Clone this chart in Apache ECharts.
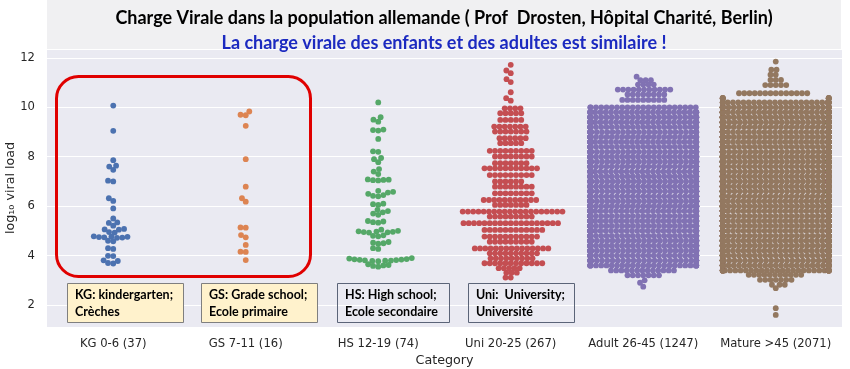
<!DOCTYPE html>
<html><head><meta charset="utf-8">
<script src="https://cdn.jsdelivr.net/npm/echarts@6/dist/echarts.min.js"></script>
<style>html,body{margin:0;padding:0;background:#fff}#c{width:850px;height:369px}</style>
</head><body><div id="c"></div>
<script>
// ---------------- DATA ----------------
const categories = ['KG 0-6 (37)', 'GS 7-11 (16)', 'HS 12-19 (74)', 'Uni 20-25 (267)', 'Adult 26-45 (1247)', 'Mature >45 (2071)'];
const yTicks = [2, 4, 6, 8, 10, 12];

const kgValues = [10.07, 9.05, 7.86, 7.64, 7.6, 7.47, 7.03, 7.0, 6.32, 6.21, 5.91, 5.5, 5.34, 5.32, 5.21,
  5.08, 5.06, 5.05, 4.95, 4.93, 4.78, 4.77, 4.76, 4.75, 4.74, 4.73, 4.72, 4.6, 4.58, 4.3, 4.27,
  3.99, 3.98, 3.81, 3.78, 3.7, 3.68];

const gsValues = [9.83, 9.7, 9.68, 9.25, 7.9, 6.79, 6.32, 6.18, 5.14, 5.13, 4.83, 4.74, 4.43, 4.16, 4.15, 3.82];

const hsValues = [10.2, 9.6, 9.5, 9.42, 9.1, 9.08, 9.06, 8.72, 8.22, 8.2, 7.95, 7.9, 7.78, 7.5, 7.4, 7.3,
  7.08, 7.07, 7.06, 7.05, 7.04, 6.62, 6.58, 6.55, 6.5, 6.45, 6.42, 6.4, 6.1, 6.08, 6.05,
  5.85, 5.8, 5.75, 5.7, 5.65, 5.4, 5.38, 5.35, 5.33, 5.05, 5.0, 4.98, 4.97, 4.96, 4.95, 4.94, 4.93,
  4.82, 4.8, 4.78, 4.55, 4.52, 4.5, 4.48, 4.3, 4.27,
  3.9, 3.88, 3.86, 3.85, 3.84, 3.83, 3.82, 3.81, 3.8, 3.79, 3.78, 3.77, 3.65, 3.62, 3.6, 3.58, 3.55];

// value levels and how many points sit on each level
const uniLevels = [3.11, 3.31, 3.49, 3.69, 3.89, 4.09, 4.29, 4.56, 4.77, 5.04, 5.31, 5.58, 5.78, 6.05, 6.25, 6.52, 6.79, 7.0,
  7.26, 7.53, 7.74, 8.01, 8.24, 8.55, 8.75, 9.02, 9.22, 9.49, 9.76, 9.96, 10.27, 10.37, 10.61, 11.02, 11.14, 11.38, 11.49, 11.72];
const uniCounts = [2, 3, 5, 12, 9, 10, 15, 9, 11, 12, 19, 9, 20, 7, 11, 8, 8, 6,
  9, 11, 7, 8, 9, 5, 6, 7, 7, 5, 5, 4, 1, 1, 1, 1, 1, 1, 1, 1];

const adultLevels = [2.74, 2.9, 3.0, 3.2, 3.4, 3.6, 3.8, 4.0, 4.2, 4.4, 4.6, 4.8, 5.0, 5.2, 5.4, 5.6, 5.8, 6.0, 6.2, 6.4, 6.6,
  6.8, 7.0, 7.2, 7.4, 7.6, 7.8, 8.0, 8.2, 8.4, 8.6, 8.8, 9.0, 9.2, 9.4, 9.6, 9.8, 10.0, 10.3, 10.52, 10.72, 10.92, 11.1, 11.24];
const adultCounts = [1, 1, 1, 7, 13, 30, 34, 36, 37, 38, 38, 39, 39, 41, 41, 41, 41, 40, 40, 38, 38,
  38, 37, 37, 37, 36, 36, 36, 35, 35, 35, 34, 34, 33, 33, 31, 28, 22, 9, 8, 11, 4, 3, 1];

const matureLevels = [1.6, 1.87, 2.68, 2.82, 3.02, 3.22, 3.4, 3.6, 3.8, 4.0, 4.2, 4.4, 4.6, 4.8, 5.0, 5.2, 5.4, 5.6, 5.8, 6.0,
  6.2, 6.4, 6.6, 6.8, 7.0, 7.2, 7.4, 7.6, 7.8, 8.0, 8.2, 8.4, 8.6, 8.8, 9.0, 9.2, 9.4, 9.6, 9.8, 10.0, 10.2,
  10.37, 10.57, 10.9, 11.11, 11.32, 11.52, 11.85];
const matureCounts = [1, 1, 1, 3, 7, 11, 40, 48, 52, 55, 56, 57, 58, 59, 60, 61, 61, 61, 61, 61,
  62, 62, 62, 62, 62, 62, 62, 62, 62, 62, 61, 61, 61, 61, 59, 58, 57, 55, 52, 45, 30,
  10, 14, 5, 3, 2, 2, 1];

const seriesColors = ['#4C72B0', '#DD8452', '#55A868', '#C44E52', '#8172B3', '#937860'];

// ---------------- LAYOUT ----------------
const W = 850, H = 369;
const gridL = 47, gridR = 8, gridT = 49, gridB = 42;
const yMin = 1.11, yMax = 12.36;
const pxPerX = (W - gridL - gridR) / categories.length;
const pxPerY = (H - gridT - gridB) / (yMax - yMin);
const DIAM = 5.0;             // collision diameter in px
const HALF = pxPerX * 0.8 / 2; // swarm half width in px

function expand(levels, counts) {
  const out = [];
  levels.forEach((v, i) => { for (let k = 0; k < counts[i]; k++) out.push(v); });
  return out;
}

// seaborn-like beeswarm layout (in pixel space)
function swarm(values) {
  const idx = values.map((v, i) => i).sort((a, b) => values[a] - values[b]);
  const placed = [];
  const out = new Array(values.length);
  const d2 = DIAM * DIAM;
  for (const i of idx) {
    const y = values[i] * pxPerY;
    const nb = [];
    for (let k = placed.length - 1; k >= 0; k--) {
      if (y - placed[k].y < DIAM) nb.push(placed[k]); else break;
    }
    const cands = [0];
    let leftFirst = true;
    for (const p of nb) {
      const dy = y - p.y;
      const dx = Math.sqrt(Math.max(d2 - dy * dy, 0)) * 1.05;
      if (leftFirst) cands.push(p.x - dx, p.x + dx); else cands.push(p.x + dx, p.x - dx);
      leftFirst = !leftFirst;
    }
    const order = cands.map((c, j) => j).sort((a, b) => (Math.abs(cands[a]) - Math.abs(cands[b])) || (a - b));
    let chosen = 0;
    for (const j of order) {
      const cx = cands[j];
      let ok = true;
      for (const p of nb) {
        const ddx = p.x - cx, ddy = p.y - y;
        if (ddx * ddx + ddy * ddy < d2 - 1e-9) { ok = false; break; }
      }
      if (ok) { chosen = cx; break; }
    }
    placed.push({ x: chosen, y: y });
    out[i] = Math.max(-HALF, Math.min(HALF, chosen));
  }
  return out;
}

const groups = [kgValues, gsValues, hsValues, expand(uniLevels, uniCounts), expand(adultLevels, adultCounts), expand(matureLevels, matureCounts)];

const series = groups.map((vals, ci) => {
  const offs = swarm(vals);
  return {
    type: 'scatter',
    xAxisIndex: 1,
    yAxisIndex: 0,
    symbol: 'circle',
    symbolSize: 5.8,
    large: false,
    progressive: 0,
    silent: true,
    itemStyle: { color: seriesColors[ci], opacity: 1 },
    data: vals.map((v, k) => [ci + offs[k] / pxPerX, v]),
    z: 3
  };
});

const TXT = '#262626';
const boxFont = 'bold 12.5px Lato';

function noteBox(x, y, w, h, fill, stroke, l1, l2) {
  return {
    type: 'group', z: 100,
    children: [
      { type: 'rect', shape: { x: x + 0.5, y: y + 0.5, width: w, height: h }, style: { fill: fill, stroke: stroke, lineWidth: 1 }, z: 100 },
      { type: 'text', x: x + 8, y: y + 12, style: { text: l1, font: boxFont, fill: '#000', verticalAlign: 'middle' }, z: 101 },
      { type: 'text', x: x + 8, y: y + 29, style: { text: l2, font: boxFont, fill: '#000', verticalAlign: 'middle' }, z: 101 }
    ]
  };
}

const chart = echarts.init(document.getElementById('c'), null, { renderer: 'canvas' });
chart.setOption({
  animation: false,
  backgroundColor: '#ffffff',
  grid: { left: gridL, right: gridR, top: gridT, bottom: gridB, show: true, backgroundColor: '#EAEAF2', borderWidth: 0,
    containLabel: false, outerBoundsMode: 'none' },
  xAxis: [
    {
      type: 'category', data: categories, boundaryGap: true,
      axisLine: { show: false }, axisTick: { show: false }, splitLine: { show: false },
      axisLabel: { color: TXT, fontFamily: 'DejaVu Sans', fontSize: 11.6, margin: 11, interval: 0 },
      name: 'Category', nameLocation: 'middle', nameGap: 27, nameMoveOverlap: false,
      nameTextStyle: { color: TXT, fontFamily: 'DejaVu Sans', fontSize: 12.7 }
    },
    { type: 'value', min: -0.5, max: categories.length - 0.5, show: false, splitLine: { show: false } }
  ],
  yAxis: [{
    type: 'value', min: yMin, max: yMax, splitNumber: 5,
    axisLine: { show: false }, axisTick: { show: false },
    splitLine: { show: true, lineStyle: { color: '#ffffff', width: 1.2 } },
    axisLabel: {
      color: TXT, fontFamily: 'DejaVu Sans', fontSize: 11.6, margin: 12,
      formatter: v => (yTicks.some(t => Math.abs(t - v) < 1e-6) ? String(Math.round(v)) : '')
    },
    name: 'log\u2081\u2080 viral load', nameLocation: 'middle', nameGap: 30, nameMoveOverlap: false,
    nameTextStyle: { color: TXT, fontFamily: 'DejaVu Sans', fontSize: 12.7 }
  }],
  series: series,
  graphic: [
    { type: 'rect', z: 90, shape: { x: gridL, y: 0, width: W - gridL - gridR - 1, height: gridT }, style: { fill: '#F0F0F2' } },
    { type: 'text', z: 95, x: 444, y: 18, style: { text: 'Charge Virale dans la population allemande ( Prof  Drosten, Hôpital Charité, Berlin)', font: 'bold 18px Lato', fill: '#000', align: 'center', verticalAlign: 'middle' } },
    { type: 'text', z: 95, x: 444, y: 43, style: { text: 'La charge virale des enfants et des adultes est similaire !', font: 'bold 18px Lato', fill: '#1C2AC0', align: 'center', verticalAlign: 'middle' } },
    { type: 'rect', z: 96, shape: { x: 56.5, y: 76.5, width: 254, height: 200, r: 22 }, style: { fill: 'none', stroke: '#E00000', lineWidth: 3 } },
    noteBox(67, 283, 116, 39, '#FFF2CC', '#7F7F7F', 'KG: kindergarten;', 'Crèches'),
    noteBox(201, 283, 116, 39, '#FFF2CC', '#7F7F7F', 'GS: Grade school;', 'Ecole primaire'),
    noteBox(337, 283, 112, 39, 'rgba(0,0,0,0)', '#5B6478', 'HS: High school;', 'Ecole secondaire'),
    noteBox(468, 283, 106, 39, 'rgba(0,0,0,0)', '#5B6478', 'Uni:  University;', 'Université')
  ]
});
</script>
</body></html>
